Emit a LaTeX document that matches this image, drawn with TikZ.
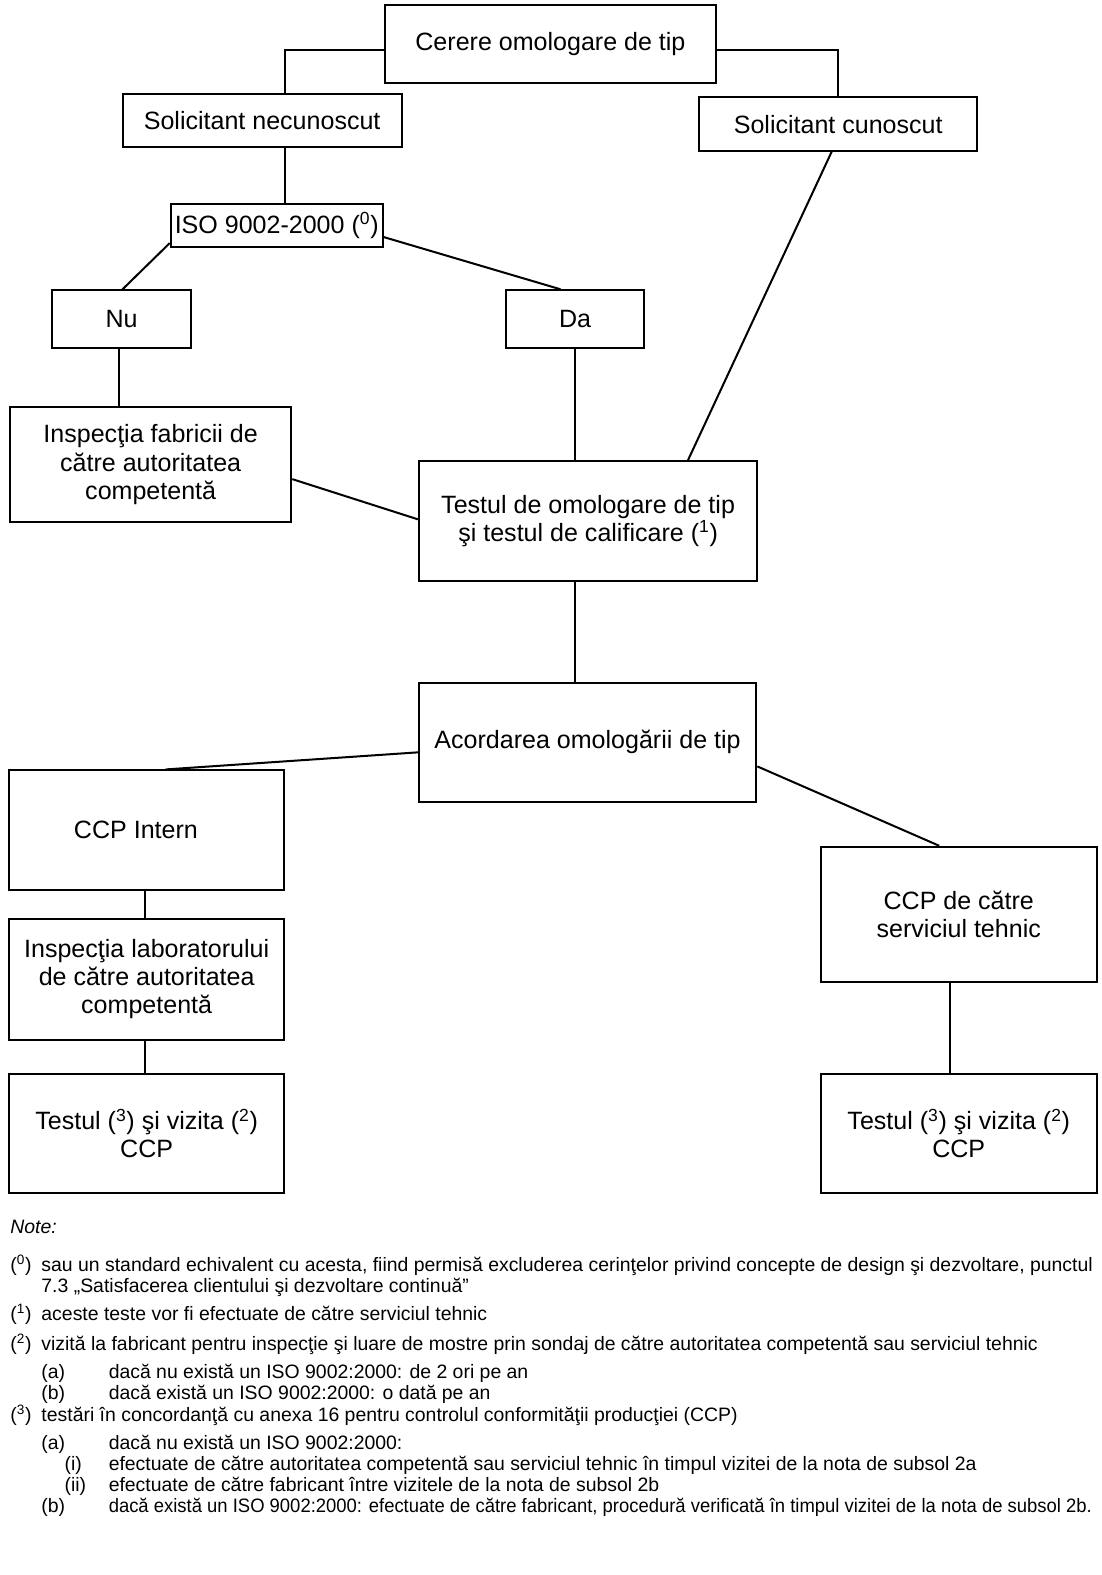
\documentclass[tikz,border=0pt]{standalone}
\usepackage{fontspec}
\setmainfont{Liberation Sans}
\usetikzlibrary{calc}
\newcommand{\dgboxfont}{\fontsize{18.7}{21}\selectfont}
\newcommand{\dgnotefont}{\fontsize{14.5}{15.75}\selectfont}
\begin{document}
\begin{tikzpicture}[x=0.75pt,y=-0.75pt,
  box/.style={draw,line width=1.5pt,inner sep=0pt,align=center,font=\dgboxfont},
  conn/.style={line width=1.5pt},
  note/.style={anchor=base west,inner sep=0pt,font=\dgnotefont}]
\useasboundingbox[fill=white] (0,0) rectangle (1097,1568);
% boxes
\node[box,minimum width=247.5pt,minimum height=58.5pt] (cerere) at (548,44) {Cerere omologare de tip};
\node[box,minimum width=208.5pt,minimum height=39pt] (necun) at (261,120) {Solicitant necunoscut};
\node[box,minimum width=207.75pt,minimum height=39.75pt] (cun) at (834.5,123.5) {Solicitant cunoscut};
\node[box,minimum width=158.25pt,minimum height=32.25pt] (iso) at (275.5,224.5) {ISO 9002-2000 (\textsuperscript{0})};
\node[box,minimum width=103.5pt,minimum height=42.75pt] (nu) at (121,317.5) {Nu};
\node[box,minimum width=102.75pt,minimum height=42.75pt] (da) at (572.5,317.5) {Da};
\node[box,minimum width=210pt,minimum height=86.25pt] (insp) at (150,462.5) {Inspecţia fabricii de\\către autoritatea\\competentă\hspace*{0pt}};
\node[box,minimum width=252.75pt,minimum height=89.25pt] (test) at (585.5,518.5) {Testul de omologare de tip\\şi testul de calificare (\textsuperscript{1})};
\node[box,minimum width=252pt,minimum height=88.5pt] (acord) at (585,739) {Acordarea omologării de tip};
\node[box,minimum width=205.5pt,minimum height=89.25pt] (ccpi) at (146,826.5) {CCP Intern\hspace*{16pt}};
\node[box,minimum width=206.25pt,minimum height=101.25pt] (ccpt) at (954.5,910.5) {CCP de către\\serviciul tehnic};
\node[box,minimum width=205.5pt,minimum height=90pt] (lab) at (146,975) {Inspecţia laboratorului\\de către autoritatea\\competentă};
\node[box,minimum width=205.5pt,minimum height=89.25pt] (tl) at (146,1128.5) {Testul (\textsuperscript{3}) şi vizita (\textsuperscript{2})\\CCP};
\node[box,minimum width=206.25pt,minimum height=89.25pt] (tr) at (954.5,1128.5) {Testul (\textsuperscript{3}) şi vizita (\textsuperscript{2})\\CCP};
% connectors
\draw[conn] ($(cerere.west)+(0,6)$) -| ($(necun.north)+(23,0)$);
\draw[conn] ($(cerere.east)+(0,6)$) -| (cun.north);
\draw[conn] ($(necun.south)+(23,0)$) -- ($(iso.north)+(8.5,0)$);
\draw[conn] ($(iso.south west)+(0,-5)$) -- ($(nu.north)+(1,0)$);
\draw[conn] ($(iso.east)+(0,11.5)$) -- ($(da.north)+(-14.5,0)$);
\draw[conn] ($(nu.south)+(-3,0)$) -- ($(insp.north)+(-32,0)$);
\draw[conn] (da.south) -- ($(test.north)+(-13,0)$);
\draw[conn] ($(cun.south)+(-6.5,0)$) -- ($(test.north)+(99.5,0)$);
\draw[conn] ($(insp.east)+(0,14.5)$) -- ($(test.west)+(0,-1.5)$);
\draw[conn] ($(test.south)+(-13.5,0)$) -- ($(acord.north)+(-13,0)$);
\draw[conn] ($(acord.west)+(0,10)$) -- ($(ccpi.north)+(19,0)$);
\draw[conn] ($(acord.east)+(0,24)$) -- ($(ccpt.north)+(-19.5,0)$);
\draw[conn] ($(ccpi.south)+(-2,0)$) -- ($(lab.north)+(-2,0)$);
\draw[conn] ($(lab.south)+(-2,0)$) -- ($(tl.north)+(-2,0)$);
\draw[conn] ($(ccpt.south)+(-8.5,0)$) -- ($(tr.north)+(-8.5,0)$);
% notes
\node[note,font=\dgnotefont\itshape] (nt) at (10,1228) {Note:};
\node[note] (m0) at (10,1266) {(\textsuperscript{0})};
\node[note] (t0a) at (41,1266) {sau un standard echivalent cu acesta, fiind permisă excluderea cerinţelor privind concepte de design şi dezvoltare, punctul};
\node[note] (t0b) at (41,1287) {7.3 „Satisfacerea clientului şi dezvoltare continuă”};
\node[note] (m1) at (10,1315) {(\textsuperscript{1})};
\node[note] (t1) at (41,1315) {aceste teste vor fi efectuate de către serviciul tehnic};
\node[note] (m2) at (10,1344) {(\textsuperscript{2})};
\node[note] (t2) at (41,1344) {vizită la fabricant pentru inspecţie şi luare de mostre prin sondaj de către autoritatea competentă sau serviciul tehnic};
\node[note] (m2a) at (41,1372) {(a)};
\node[note] (t2a) at (108,1372) {dacă nu există un ISO 9002:2000: de 2 ori pe an};
\node[note] (m2b) at (41,1393) {(b)};
\node[note] (t2b) at (108,1393) {dacă există un ISO 9002:2000: o dată pe an};
\node[note] (m3) at (10,1415) {(\textsuperscript{3})};
\node[note] (t3) at (41,1415) {testări în concordanţă cu anexa 16 pentru controlul conformităţii producţiei (CCP)};
\node[note] (m3a) at (41,1443) {(a)};
\node[note] (t3a) at (108,1443) {dacă nu există un ISO 9002:2000:};
\node[note] (m3i) at (64,1464) {(i)};
\node[note] (t3i) at (108,1464) {efectuate de către autoritatea competentă sau serviciul tehnic în timpul vizitei de la nota de subsol 2a};
\node[note] (m3ii) at (64,1485) {(ii)};
\node[note] (t3ii) at (108,1485) {efectuate de către fabricant între vizitele de la nota de subsol 2b};
\node[note] (m3b) at (41,1506) {(b)};
\node[note] (t3b) at (108,1506) {\scalebox{0.95}[1]{dacă există un ISO 9002:2000: efectuate de către fabricant, procedură verificată în timpul vizitei de la nota de subsol 2b.}};
\end{tikzpicture}
\end{document}
